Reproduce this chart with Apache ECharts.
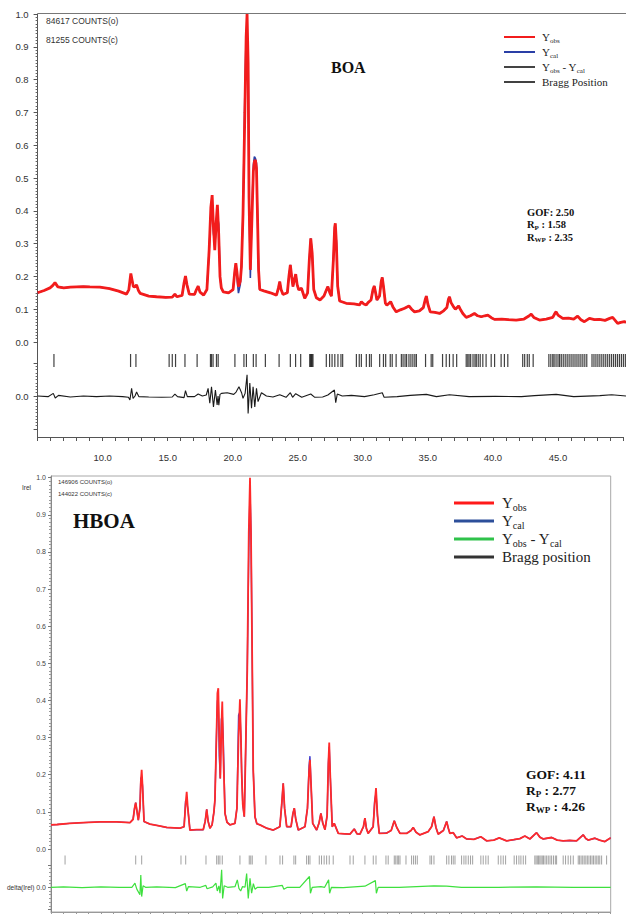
<!DOCTYPE html>
<html>
<head>
<meta charset="utf-8">
<script src="https://cdn.jsdelivr.net/npm/echarts@6.0.0/dist/echarts.min.js"></script>
<style>
  html, body { margin: 0; padding: 0; background: #fff; }
  #chart { width: 626px; height: 914px; }
</style>
</head>
<body>
<div id="chart"></div>
<script>
// ---------- BOA pattern (2θ, relative intensity) ----------
const boaObs = [
  [5.00,0.150],[5.50,0.157],[5.95,0.165],[6.15,0.172],[6.33,0.181],[6.55,0.168],[7.00,0.165],[7.50,0.167],
  [8.00,0.168],[8.50,0.169],[9.00,0.168],[9.77,0.167],[10.50,0.163],[11.20,0.155],[11.80,0.146],[11.98,0.160],
  [12.13,0.209],[12.22,0.190],[12.32,0.169],[12.45,0.168],[12.57,0.174],[12.70,0.158],[12.85,0.148],[13.50,0.140],
  [14.10,0.138],[14.80,0.136],[15.30,0.137],[15.50,0.146],[15.65,0.138],[16.05,0.142],[16.20,0.180],[16.31,0.201],
  [16.42,0.175],[16.60,0.146],[17.00,0.145],[17.15,0.160],[17.28,0.170],[17.42,0.152],[17.70,0.143],[17.95,0.160],
  [18.12,0.280],[18.25,0.410],[18.35,0.448],[18.45,0.350],[18.55,0.280],[18.65,0.360],[18.75,0.418],[18.85,0.330],
  [18.95,0.200],[19.05,0.165],[19.20,0.153],[19.60,0.150],[19.95,0.160],[20.08,0.215],[20.16,0.240],[20.24,0.215],
  [20.36,0.169],[20.50,0.185],[20.59,0.230],[20.71,0.390],[20.85,0.700],[20.95,0.930],[21.02,1.000],[21.10,0.850],
  [21.17,0.440],[21.27,0.220],[21.38,0.360],[21.50,0.520],[21.58,0.550],[21.66,0.555],[21.74,0.530],[21.82,0.380],
  [21.90,0.220],[21.99,0.160],[22.30,0.156],[22.80,0.150],[23.27,0.143],[23.42,0.165],[23.52,0.184],[23.62,0.160],
  [23.77,0.145],[24.10,0.150],[24.22,0.200],[24.33,0.235],[24.43,0.200],[24.53,0.169],[24.64,0.190],[24.74,0.207],
  [24.85,0.175],[24.97,0.159],[25.18,0.164],[25.43,0.133],[25.65,0.150],[25.78,0.250],[25.89,0.316],[26.00,0.270],
  [26.12,0.160],[26.32,0.135],[26.60,0.128],[26.90,0.140],[27.10,0.160],[27.20,0.169],[27.35,0.150],[27.47,0.140],
  [27.62,0.250],[27.72,0.350],[27.77,0.362],[27.85,0.300],[27.95,0.170],[28.10,0.125],[28.60,0.118],[29.20,0.116],
  [29.63,0.113],[29.76,0.123],[29.95,0.116],[30.14,0.113],[30.27,0.120],[30.50,0.128],[30.65,0.160],[30.75,0.171],
  [30.85,0.150],[30.95,0.128],[31.15,0.140],[31.28,0.185],[31.36,0.197],[31.45,0.170],[31.60,0.118],[31.71,0.112],
  [32.00,0.123],[32.20,0.105],[32.43,0.092],[32.75,0.098],[33.07,0.103],[33.40,0.110],[33.60,0.100],[33.83,0.092],
  [34.20,0.095],[34.50,0.105],[34.65,0.130],[34.73,0.140],[34.85,0.115],[35.03,0.092],[35.40,0.090],[35.74,0.087],
  [36.05,0.095],[36.30,0.105],[36.42,0.130],[36.50,0.138],[36.62,0.120],[36.80,0.108],[36.95,0.100],[37.20,0.110],
  [37.35,0.098],[37.52,0.087],[37.78,0.075],[38.10,0.080],[38.41,0.087],[38.65,0.080],[38.93,0.077],[39.20,0.080],
  [39.43,0.082],[39.70,0.074],[39.94,0.069],[40.50,0.070],[41.00,0.068],[41.60,0.067],[42.20,0.070],[42.60,0.080],
  [42.75,0.085],[42.95,0.075],[43.38,0.067],[43.90,0.070],[44.40,0.075],[44.60,0.090],[44.66,0.092],[44.80,0.082],
  [45.16,0.072],[45.60,0.073],[46.00,0.070],[46.30,0.079],[46.55,0.068],[46.82,0.062],[47.20,0.072],[47.60,0.068],
  [47.96,0.069],[48.40,0.066],[48.75,0.072],[48.98,0.075],[49.36,0.057],[49.60,0.060],[49.87,0.062],[50.00,0.060]
];
// calculated profile: equal to the observed one except at these points
const boaCalShift = [
  [12.13,0.200],[18.25,0.390],[18.35,0.405],[18.45,0.330],[18.55,0.300],[18.65,0.340],[18.75,0.385],[18.85,0.360],
  [20.24,0.200],[20.36,0.149],[20.50,0.175],[20.85,0.760],[20.95,0.940],[21.02,0.940],[21.10,0.890],[21.27,0.195],
  [21.38,0.380],[21.50,0.540],[21.58,0.565],[21.66,0.560],[21.74,0.545],[27.77,0.350],[27.85,0.310]
];
const boaDiff = [
  [5.0,0.000],[5.8,-0.002],[6.2,0.008],[6.35,-0.006],[6.6,0.002],[7.5,-0.003],[8.5,0.000],[9.5,-0.002],[10.5,0.000],
  [11.5,-0.002],[11.95,-0.004],[12.06,-0.012],[12.19,0.023],[12.30,-0.007],[12.45,0.000],[12.57,0.012],[12.75,-0.002],
  [13.5,-0.003],[14.5,-0.004],[15.3,-0.003],[15.5,0.006],[15.7,-0.002],[16.2,-0.005],[16.31,0.016],[16.45,-0.002],
  [17.0,-0.002],[17.28,0.006],[17.6,0.000],[17.9,0.003],[18.04,0.023],[18.17,-0.022],[18.30,0.028],[18.45,-0.033],
  [18.60,0.018],[18.73,-0.027],[18.80,0.000],[18.86,-0.028],[18.95,0.005],[19.06,0.008],[19.5,0.010],[20.0,0.005],
  [20.18,0.012],[20.40,0.028],[20.60,0.010],[20.71,-0.007],[20.87,0.008],[21.02,0.064],[21.10,-0.053],[21.23,0.039],
  [21.36,-0.037],[21.48,0.028],[21.61,-0.033],[21.74,0.023],[21.86,-0.017],[22.12,0.010],[22.50,0.000],[23.0,-0.003],
  [23.52,0.004],[24.0,-0.004],[24.33,0.010],[24.5,-0.004],[24.74,0.007],[25.2,-0.004],[25.89,0.006],[26.2,-0.004],
  [26.8,-0.003],[27.2,0.003],[27.70,0.018],[27.80,-0.020],[27.92,0.006],[28.3,0.000],[29.0,0.002],[30.0,-0.002],
  [30.75,0.004],[31.36,0.010],[31.5,-0.004],[32.5,-0.002],[33.5,0.002],[34.73,0.005],[35.5,-0.002],[36.5,0.004],
  [38.0,-0.002],[40.0,-0.001],[42.0,-0.002],[43.0,0.001],[44.66,0.005],[46.0,-0.002],[48.0,0.001],[48.9,0.004],[50.0,0.000]
];
const boaBragg = [
  6.25,12.11,12.52,15.06,15.30,15.55,16.27,17.20,18.22,18.30,18.42,18.68,18.81,20.09,20.78,20.97,21.50,21.71,22.42,
  23.47,24.33,24.73,25.12,25.81,25.88,25.94,26.00,26.06,27.08,27.33,27.52,27.73,27.97,28.20,28.33,29.38,29.60,29.76,
  30.14,30.38,30.52,31.16,31.45,31.62,31.97,32.12,32.42,32.82,32.95,33.10,33.22,33.40,33.55,33.70,33.85,33.97,34.67,
  35.10,35.22,35.97,36.25,36.50,36.78,37.05,37.78,37.90,38.00,38.12,38.30,38.45,38.55,38.70,38.85,39.05,39.30,39.69,
  39.95,40.45,40.70,40.96,42.10,42.25,42.45,42.60,42.90,44.10,44.25,44.40,44.50,44.65,44.80,44.92,45.05,45.20,45.35,
  45.50,45.65,45.80,45.95,46.10,46.25,46.40,46.55,46.70,46.85,47.00,47.40,47.55,47.70,47.85,48.00,48.15,48.30,48.45,
  48.60,48.75,48.90,49.05,49.20,49.35,49.50,49.65,49.80,49.95
];

// ---------- HBOA pattern ----------
const hboaObs = [
  [5.00,0.065],[5.50,0.066],[6.50,0.069],[7.60,0.071],[8.94,0.073],[10.28,0.073],[11.35,0.071],[11.60,0.080],
  [11.72,0.110],[11.81,0.125],[11.90,0.105],[12.02,0.078],[12.15,0.110],[12.22,0.180],[12.29,0.213],[12.36,0.170],
  [12.48,0.074],[12.96,0.067],[13.60,0.063],[14.30,0.058],[14.90,0.057],[15.37,0.056],[15.70,0.060],[15.82,0.120],
  [15.91,0.154],[16.00,0.110],[16.17,0.051],[16.70,0.052],[17.24,0.052],[17.40,0.075],[17.52,0.107],[17.63,0.075],
  [17.78,0.056],[17.95,0.065],[18.10,0.100],[18.18,0.132],[18.30,0.300],[18.38,0.420],[18.45,0.433],[18.53,0.300],
  [18.61,0.190],[18.70,0.330],[18.77,0.397],[18.85,0.260],[18.99,0.096],[19.15,0.072],[19.39,0.065],[19.79,0.069],
  [19.95,0.110],[20.08,0.300],[20.19,0.403],[20.27,0.300],[20.33,0.204],[20.42,0.120],[20.54,0.087],[20.62,0.213],
  [20.70,0.350],[20.78,0.482],[20.90,0.850],[21.00,1.000],[21.08,0.850],[21.16,0.572],[21.26,0.213],[21.40,0.087],
  [21.55,0.068],[21.80,0.065],[22.34,0.056],[22.87,0.051],[23.40,0.060],[23.55,0.120],[23.67,0.177],[23.78,0.110],
  [23.95,0.060],[24.30,0.060],[24.45,0.095],[24.56,0.110],[24.68,0.080],[24.88,0.051],[25.42,0.060],[25.62,0.110],
  [25.75,0.210],[25.82,0.240],[25.90,0.180],[26.04,0.069],[26.36,0.051],[26.55,0.070],[26.70,0.096],[26.85,0.070],
  [27.03,0.052],[27.20,0.090],[27.30,0.230],[27.37,0.287],[27.45,0.200],[27.61,0.060],[27.77,0.069],[28.10,0.042],
  [28.60,0.041],[29.04,0.040],[29.38,0.054],[29.60,0.041],[29.84,0.040],[30.12,0.060],[30.24,0.083],[30.36,0.055],
  [30.50,0.042],[30.90,0.060],[31.02,0.120],[31.13,0.164],[31.25,0.090],[31.39,0.042],[31.99,0.043],[32.35,0.050],
  [32.60,0.076],[32.80,0.058],[33.06,0.042],[33.59,0.042],[33.95,0.050],[34.12,0.058],[34.35,0.045],[34.66,0.038],
  [35.33,0.047],[35.60,0.060],[35.79,0.087],[35.95,0.058],[36.13,0.040],[36.55,0.050],[36.81,0.074],[36.95,0.055],
  [37.07,0.042],[37.34,0.044],[37.61,0.030],[38.06,0.035],[38.42,0.027],[39.00,0.026],[39.56,0.033],[40.02,0.022],
  [40.60,0.024],[41.04,0.030],[41.63,0.022],[42.20,0.025],[42.70,0.028],[43.10,0.035],[43.50,0.027],[44.04,0.044],
  [44.30,0.032],[44.57,0.027],[45.25,0.031],[45.70,0.024],[46.18,0.022],[46.70,0.023],[47.26,0.022],[47.79,0.038],
  [48.00,0.028],[48.19,0.024],[48.73,0.029],[49.10,0.024],[49.53,0.020],[49.94,0.029],[50.00,0.029]
];
const hboaCalShift = [
  [12.22,0.190],[12.29,0.195],[15.82,0.130],[15.91,0.125],[18.38,0.400],[18.45,0.400],[18.53,0.250],[18.70,0.350],
  [18.77,0.360],[18.85,0.300],[20.08,0.360],[20.19,0.370],[20.90,0.800],[21.00,0.970],[25.75,0.225],[25.82,0.250],
  [27.37,0.275],[31.02,0.130],[31.13,0.150]
];
const hboaDiff = [
  [5.0,0.000],[6.0,0.001],[7.5,-0.001],[9.0,0.001],[10.5,0.000],[11.5,0.000],[11.75,0.011],[11.90,-0.005],[12.15,-0.020],
  [12.22,0.033],[12.29,-0.025],[12.40,0.004],[12.60,0.000],[13.5,0.001],[15.0,-0.001],[15.80,0.010],[15.91,-0.010],
  [16.05,0.002],[17.0,0.000],[17.45,0.005],[17.55,-0.004],[18.0,0.001],[18.26,0.011],[18.37,-0.010],[18.50,0.004],
  [18.59,-0.016],[18.72,0.047],[18.80,-0.030],[18.92,0.004],[19.2,0.000],[19.8,0.002],[19.98,0.020],[20.11,-0.003],
  [20.25,-0.010],[20.40,0.002],[20.60,0.000],[20.73,0.037],[20.86,-0.030],[21.00,0.024],[21.13,-0.016],[21.27,0.010],
  [21.40,-0.005],[21.6,0.000],[22.5,0.000],[23.60,0.005],[23.72,-0.005],[24.0,0.000],[25.0,0.000],[25.78,0.029],
  [25.86,-0.016],[26.0,0.000],[26.7,0.002],[27.0,0.000],[27.32,0.020],[27.40,-0.016],[27.55,0.000],[28.5,-0.001],
  [30.24,0.003],[31.08,0.018],[31.16,-0.016],[31.30,0.000],[33.0,0.000],[35.79,0.004],[36.81,0.003],[38.0,0.000],
  [41.0,0.000],[44.0,0.001],[47.0,0.000],[50.0,0.000]
];
const hboaBragg = [
  6.13,11.81,12.29,15.45,15.83,17.46,18.32,18.45,18.58,18.77,20.19,20.94,21.06,21.18,22.28,23.41,23.62,24.53,24.67,
  25.55,25.70,25.82,26.57,26.75,26.96,27.16,27.37,27.69,29.04,29.30,30.24,30.91,31.13,31.93,32.11,32.60,32.72,32.84,
  32.95,33.06,33.54,33.99,34.15,34.30,34.45,35.47,35.60,35.79,36.81,36.99,37.20,37.34,37.48,38.01,38.20,38.36,38.55,
  38.73,38.90,39.56,39.75,39.96,40.15,40.96,41.17,41.36,41.55,42.24,42.43,42.62,42.78,42.97,43.16,43.90,44.00,44.10,
  44.20,44.30,44.40,44.50,44.60,44.72,44.85,44.98,45.12,45.25,45.40,45.55,45.65,46.18,46.37,46.58,46.78,46.99,47.39,
  47.50,47.62,47.75,47.87,48.00,48.12,48.25,48.38,48.50,48.62,48.75,48.88,49.00,49.12,49.27,49.67
];

// ---------- labels ----------
const xTickLabels = [10, 15, 20, 25, 30, 35, 40, 45];
const boaCounts = ['84617 COUNTS(o)', '81255 COUNTS(c)'];
const hboaCounts = ['146906 COUNTS(o)', '144022 COUNTS(c)'];
const boaStats = { GOF: '2.50', RP: '1.58', RWP: '2.35' };
const hboaStats = { GOF: '4.11', RP: '2.77', RWP: '4.26' };
const legendText = {
  'BOA obs': 'Y{s|obs}', 'BOA cal': 'Y{s|cal}', 'BOA diff': 'Y{s|obs} - Y{s|cal}', 'BOA bragg': 'Bragg Position',
  'HBOA obs': 'Y{s|obs}', 'HBOA cal': 'Y{s|cal}', 'HBOA diff': 'Y{s|obs} - Y{s|cal}', 'HBOA bragg': 'Bragg position'
};

function withShift(obs, shift) {
  const m = new Map(shift.map(p => [p[0], p[1]]));
  return obs.map(p => [p[0], m.has(p[0]) ? m.get(p[0]) : p[1]]);
}
const boaCal = withShift(boaObs, boaCalShift);
const hboaCal = withShift(hboaObs, hboaCalShift);

const SANS = '"Liberation Sans", Arial, sans-serif';
const SERIF = '"Liberation Serif", "Times New Roman", serif';
const zeroOnly = v => (Math.abs(v) < 1e-9 ? '0.0' : '');
const oneDec = v => v.toFixed(1);

const chart = echarts.init(document.getElementById('chart'), null, { renderer: 'svg' });

const hiddenX = g => ({ type: 'value', gridIndex: g, min: 5, max: 50, show: false });
const hiddenY = g => ({ type: 'value', gridIndex: g, min: -1, max: 1, show: false });

const option = {
  animation: false,
  backgroundColor: '#fff',
  grid: [
    { left: 37.6, right: 0, top: 14, height: 328 },        // 0 BOA profile
    { left: 37.6, right: 0, top: 14, height: 423 },        // 1 BOA frame / 2θ axis
    { left: 37.6, right: 0, top: 354, height: 13 },        // 2 BOA reflections
    { left: 37.6, right: 0, top: 363, height: 66 },        // 3 BOA difference
    { left: 51, width: 559.7, top: 477.7, height: 371.3 }, // 4 HBOA profile
    { left: 51, width: 559.7, top: 476, height: 436, show: true, borderColor: '#a8a8a8', borderWidth: 1 }, // 5 HBOA frame
    { left: 51, width: 559.7, top: 855, height: 10 },      // 6 HBOA reflections
    { left: 51, width: 559.7, top: 865, height: 44.6 }     // 7 HBOA difference
  ],
  xAxis: [
    hiddenX(0),
    {
      type: 'value', gridIndex: 1, min: 5, max: 50, interval: 1,
      axisLine: { lineStyle: { color: '#555', width: 1 } },
      axisTick: { length: 4, lineStyle: { color: '#555' } },
      splitLine: { show: false },
      axisLabel: {
        margin: 15, fontSize: 9.5, fontFamily: SANS, color: '#333',
        formatter: v => (xTickLabels.indexOf(v) >= 0 ? v.toFixed(1) : '')
      }
    },
    hiddenX(2), hiddenX(3), hiddenX(4),
    {
      type: 'value', gridIndex: 5, min: 5, max: 50, interval: 1,
      axisLine: { lineStyle: { color: '#999' } },
      axisTick: { length: 3, lineStyle: { color: '#999' } },
      axisLabel: { show: false }, splitLine: { show: false }
    },
    hiddenX(6), hiddenX(7)
  ],
  yAxis: [
    {
      type: 'value', gridIndex: 0, min: 0, max: 1, interval: 0.1,
      axisLine: { show: false },
      axisTick: { show: true, length: 4, lineStyle: { color: '#555' } },
      minorTick: { show: true, splitNumber: 10, length: 2, lineStyle: { color: '#666' } },
      splitLine: { show: false }, minorSplitLine: { show: false },
      axisLabel: { margin: 9, fontSize: 9.5, fontFamily: SANS, color: '#333', formatter: oneDec }
    },
    {
      type: 'value', gridIndex: 1, min: 0, max: 1,
      axisLine: { show: true, lineStyle: { color: '#555' } },
      axisTick: { show: false }, axisLabel: { show: false }, splitLine: { show: false }
    },
    hiddenY(2),
    {
      type: 'value', gridIndex: 3, min: -0.1, max: 0.1, interval: 0.1,
      axisLine: { show: false },
      axisTick: { show: true, length: 4, lineStyle: { color: '#555' } },
      minorTick: { show: true, splitNumber: 10, length: 2, lineStyle: { color: '#666' } },
      splitLine: { show: false },
      axisLabel: { margin: 9, fontSize: 9.5, fontFamily: SANS, color: '#333', formatter: zeroOnly }
    },
    {
      type: 'value', gridIndex: 4, min: 0, max: 1, interval: 0.1,
      axisLine: { show: false },
      axisTick: { show: true, length: 3, lineStyle: { color: '#777' } },
      minorTick: { show: true, splitNumber: 10, length: 2, lineStyle: { color: '#999' } },
      splitLine: { show: false },
      axisLabel: { margin: 5, fontSize: 7, fontFamily: SANS, color: '#444', formatter: oneDec }
    },
    {
      type: 'value', gridIndex: 5, min: 0, max: 1,
      axisLine: { show: true, lineStyle: { color: '#888' } },
      axisTick: { show: false }, axisLabel: { show: false }, splitLine: { show: false }
    },
    hiddenY(6),
    {
      type: 'value', gridIndex: 7, min: -0.06, max: 0.06, interval: 0.06,
      axisLine: { show: false },
      axisTick: { show: true, length: 3, lineStyle: { color: '#777' } },
      minorTick: { show: true, splitNumber: 6, length: 2, lineStyle: { color: '#999' } },
      splitLine: { show: false },
      axisLabel: { margin: 5, fontSize: 7, fontFamily: SANS, color: '#444', formatter: zeroOnly }
    }
  ],
  legend: [
    {
      left: 499, top: 25, orient: 'vertical', icon: 'rect', itemWidth: 31, itemHeight: 2, itemGap: 1,
      selectedMode: false,
      data: ['BOA obs', 'BOA cal', 'BOA diff', 'BOA bragg'],
      formatter: n => legendText[n],
      textStyle: {
        fontFamily: SERIF, fontSize: 11, color: '#222', lineHeight: 14, padding: [0, 0, 0, 2],
        rich: { s: { fontFamily: SERIF, fontSize: 7, color: '#222', lineHeight: 8, verticalAlign: 'bottom' } }
      }
    },
    {
      left: 449, top: 489, orient: 'vertical', icon: 'rect', itemWidth: 40, itemHeight: 3, itemGap: 0,
      selectedMode: false,
      data: ['HBOA obs', 'HBOA cal', 'HBOA diff', { name: 'HBOA bragg', itemStyle: { color: '#000' } }],
      formatter: n => legendText[n],
      textStyle: {
        fontFamily: SERIF, fontSize: 15, color: '#222', lineHeight: 18, padding: [0, 0, 0, 3],
        rich: { s: { fontFamily: SERIF, fontSize: 10, color: '#222', lineHeight: 11, verticalAlign: 'bottom' } }
      }
    }
  ],
  series: [
    { name: 'BOA cal', type: 'line', xAxisIndex: 0, yAxisIndex: 0, data: boaCal, showSymbol: false,
      color: '#2a3fa6', lineStyle: { width: 1.6, color: '#2a3fa6' }, z: 2 },
    { name: 'BOA obs', type: 'line', xAxisIndex: 0, yAxisIndex: 0, data: boaObs, showSymbol: false,
      color: '#f21c1c', lineStyle: { width: 2.8, color: '#f21c1c' }, z: 3 },
    { name: 'BOA diff', type: 'line', xAxisIndex: 3, yAxisIndex: 3, data: boaDiff, showSymbol: false,
      color: '#444', lineStyle: { width: 1.1, color: '#1a1a1a' }, z: 3 },
    { name: 'BOA bragg', type: 'scatter', xAxisIndex: 2, yAxisIndex: 2, data: boaBragg.map(x => [x, 0]),
      symbol: 'rect', symbolSize: [1.2, 13], itemStyle: { color: '#111' }, z: 3 },

    { name: 'HBOA cal', type: 'line', xAxisIndex: 4, yAxisIndex: 4, data: hboaCal, showSymbol: false,
      color: '#2d4f9a', lineStyle: { width: 1.4, color: '#3a3ad0' }, z: 2 },
    { name: 'HBOA obs', type: 'line', xAxisIndex: 4, yAxisIndex: 4, data: hboaObs, showSymbol: false,
      color: '#ff1a1a', lineStyle: { width: 1.8, color: '#ff2a2a' }, z: 3 },
    { name: 'HBOA diff', type: 'line', xAxisIndex: 7, yAxisIndex: 7, data: hboaDiff, showSymbol: false,
      color: '#2fc24a', lineStyle: { width: 1.2, color: '#3ee03e' }, z: 3 },
    { name: 'HBOA bragg', type: 'scatter', xAxisIndex: 6, yAxisIndex: 6, data: hboaBragg.map(x => [x, 0]),
      symbol: 'rect', symbolSize: [1, 9], itemStyle: { color: '#8a8a8a' }, z: 3 }
  ],
  graphic: [
    // BOA frame top edge
    { type: 'line', shape: { x1: 37.6, y1: 13.5, x2: 626, y2: 13.5 }, style: { stroke: '#777', lineWidth: 1 } },
    { type: 'text', x: 46, y: 20.7, style: { text: boaCounts[0], font: '8.5px ' + SANS, fill: '#333', verticalAlign: 'middle' } },
    { type: 'text', x: 46, y: 40, style: { text: boaCounts[1], font: '8.5px ' + SANS, fill: '#333', verticalAlign: 'middle' } },
    { type: 'text', x: 331, y: 67.5, style: { text: 'BOA', font: 'bold 16px ' + SERIF, fill: '#111', verticalAlign: 'middle' } },
    { type: 'text', x: 527, y: 206, style: {
        text: '{b|GOF: ' + boaStats.GOF + '}\n{b|R}{s|P}{b| : ' + boaStats.RP + '}\n{b|R}{s|WP}{b| : ' + boaStats.RWP + '}',
        rich: {
          b: { fontFamily: SERIF, fontWeight: 'bold', fontSize: 10.5, fill: '#111', lineHeight: 12.5 },
          s: { fontFamily: SERIF, fontWeight: 'bold', fontSize: 7, fill: '#111', lineHeight: 8, verticalAlign: 'bottom' }
        } } },

    { type: 'text', x: 58, y: 482, style: { text: hboaCounts[0], font: '6px ' + SANS, fill: '#333', verticalAlign: 'middle' } },
    { type: 'text', x: 58, y: 494.3, style: { text: hboaCounts[1], font: '6px ' + SANS, fill: '#333', verticalAlign: 'middle' } },
    { type: 'text', x: 22, y: 487, style: { text: 'Irel', font: '6.5px ' + SANS, fill: '#333', verticalAlign: 'middle' } },
    { type: 'text', x: 7, y: 887.3, style: { text: 'delta(Irel)', font: '6.5px ' + SANS, fill: '#333', verticalAlign: 'middle' } },
    { type: 'text', x: 73, y: 521.3, style: { text: 'HBOA', font: 'bold 21px ' + SERIF, fill: '#111', verticalAlign: 'middle' } },
    { type: 'text', x: 526, y: 766, style: {
        text: '{b|GOF: ' + hboaStats.GOF + '}\n{b|R}{s|P}{b| : ' + hboaStats.RP + '}\n{b|R}{s|WP}{b| : ' + hboaStats.RWP + '}',
        rich: {
          b: { fontFamily: SERIF, fontWeight: 'bold', fontSize: 13.5, fill: '#111', lineHeight: 16 },
          s: { fontFamily: SERIF, fontWeight: 'bold', fontSize: 9, fill: '#111', lineHeight: 10, verticalAlign: 'bottom' }
        } } }
  ]
};

chart.setOption(option);
</script>
</body>
</html>
